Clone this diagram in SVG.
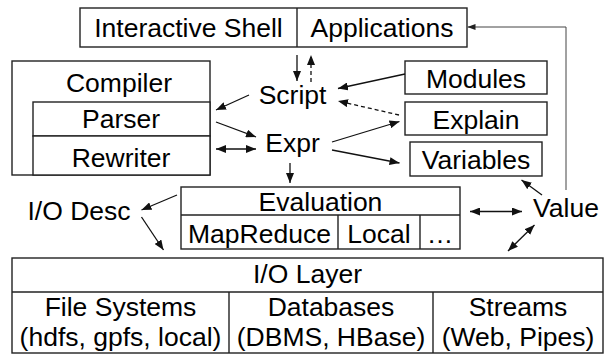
<svg xmlns="http://www.w3.org/2000/svg" width="611" height="356" viewBox="0 0 611 356">
<style>
.box{fill:#fff;stroke:#222;stroke-width:1.4}
.ln{fill:none;stroke:#222;stroke-width:1.4}
text{font-family:"Liberation Sans",Arial,sans-serif;font-size:26.5px;fill:#000;text-anchor:middle}
.c{stroke:#111;stroke-width:1.3;fill:none}
.d{stroke-dasharray:4,3}
.thin{stroke:#444;stroke-width:1}
</style>
<defs>
<marker id="ah" viewBox="0 0 10 8" refX="10" refY="4" markerWidth="10" markerHeight="8" markerUnits="userSpaceOnUse" orient="auto-start-reverse">
<path d="M0,0 L10,4 L0,8 z" fill="#111"/>
</marker>
<marker id="ahs" viewBox="0 0 8 6" refX="8" refY="3" markerWidth="8" markerHeight="6" markerUnits="userSpaceOnUse" orient="auto">
<path d="M0,0 L8,3 L0,6 z" fill="#222"/>
</marker>
</defs>
<g id="top">
<rect class="box" x="80" y="8" width="387" height="39"/>
<line class="ln" x1="297" y1="8" x2="297" y2="47"/>
<text x="188.5" y="37">Interactive Shell</text>
<text x="382" y="37">Applications</text>
</g>
<g id="compiler">
<rect class="box" x="12" y="61" width="198" height="114"/>
<rect class="box" x="33" y="102" width="177" height="34"/>
<rect class="box" x="33" y="136" width="177" height="39"/>
<text x="119" y="92">Compiler</text>
<text x="121" y="128">Parser</text>
<text x="121" y="167">Rewriter</text>
</g>
<g id="script"><text x="292.5" y="104">Script</text></g>
<g id="expr"><text x="292.5" y="152">Expr</text></g>
<g id="modules">
<rect class="box" x="405" y="61" width="142" height="33"/>
<text x="476" y="88">Modules</text>
</g>
<g id="explain">
<rect class="box" x="405" y="102" width="142" height="33"/>
<text x="476" y="128.5">Explain</text>
</g>
<g id="variables">
<rect class="box" x="410" y="142" width="132" height="34"/>
<text x="476" y="168.5">Variables</text>
</g>
<g id="evaluation">
<rect class="box" x="181" y="187" width="279" height="62"/>
<line class="ln" x1="181" y1="215" x2="460" y2="215"/>
<line class="ln" x1="338" y1="215" x2="338" y2="249"/>
<line class="ln" x1="420" y1="215" x2="420" y2="249"/>
<text x="320.5" y="211">Evaluation</text>
<text x="259.5" y="243">MapReduce</text>
<text x="379" y="243">Local</text>
<text x="440" y="243">…</text>
</g>
<g id="iodesc"><text x="79" y="220">I/O Desc</text></g>
<g id="value"><text x="566" y="217">Value</text></g>
<g id="iolayer">
<rect class="box" x="12" y="258" width="591" height="95"/>
<line class="ln" x1="12" y1="292" x2="603" y2="292"/>
<line class="ln" x1="229" y1="292" x2="229" y2="353"/>
<line class="ln" x1="433" y1="292" x2="433" y2="353"/>
<text x="307.5" y="283">I/O Layer</text>
<text x="120.5" y="316">File Systems</text>
<text x="120.5" y="346">(hdfs, gpfs, local)</text>
<text x="331" y="316">Databases</text>
<text x="331" y="346">(DBMS, HBase)</text>
<text x="518" y="316">Streams</text>
<text x="518" y="346">(Web, Pipes)</text>
</g>
<g id="connectors">
<line class="c" x1="297" y1="55" x2="297" y2="81" marker-end="url(#ah)"/>
<line class="c d" x1="311" y1="82" x2="311" y2="55" marker-end="url(#ah)"/>
<line class="c" x1="249" y1="95" x2="216" y2="110" marker-end="url(#ah)"/>
<line class="c" x1="216" y1="122" x2="256" y2="137" marker-end="url(#ah)"/>
<line class="c" x1="216" y1="149" x2="256" y2="149" marker-start="url(#ah)" marker-end="url(#ah)"/>
<line class="c" x1="290" y1="163" x2="290" y2="183" marker-end="url(#ah)"/>
<line class="c" x1="405" y1="74" x2="338" y2="88.5" marker-end="url(#ah)"/>
<line class="c d" x1="399" y1="115" x2="338" y2="101" marker-end="url(#ah)"/>
<line class="c" x1="332" y1="142" x2="399.5" y2="121.5" marker-end="url(#ah)"/>
<line class="c" x1="332" y1="150" x2="399.5" y2="163" marker-end="url(#ah)"/>
<polyline class="c thin" points="566,190 566,27 467.5,27" marker-end="url(#ahs)"/>
<line class="c" x1="542" y1="195" x2="521.5" y2="180" marker-end="url(#ah)"/>
<line class="c" x1="470" y1="211.5" x2="522" y2="211.5" marker-start="url(#ah)" marker-end="url(#ah)"/>
<line class="c" x1="534.5" y1="225" x2="508" y2="251" marker-start="url(#ah)" marker-end="url(#ah)"/>
<line class="c" x1="177" y1="195" x2="141.5" y2="210" marker-end="url(#ah)"/>
<line class="c" x1="141.5" y1="217" x2="163.5" y2="250" marker-end="url(#ah)"/>
</g>
</svg>
